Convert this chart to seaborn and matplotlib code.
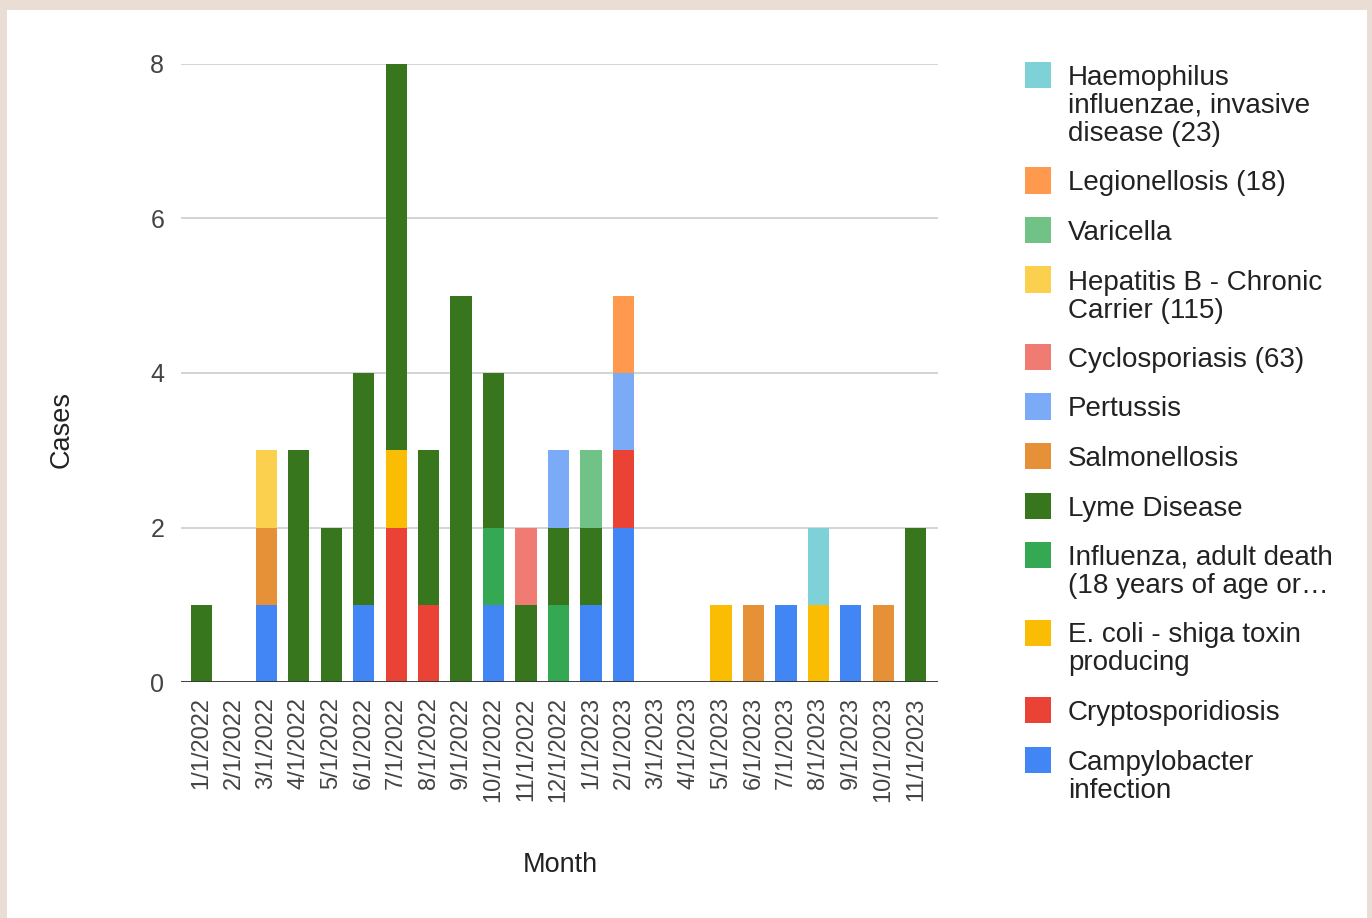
import numpy as np
import matplotlib.pyplot as plt
from matplotlib.patches import Rectangle
import seaborn as sns

months = ['1/1/2022', '2/1/2022', '3/1/2022', '4/1/2022', '5/1/2022', '6/1/2022',
          '7/1/2022', '8/1/2022', '9/1/2022', '10/1/2022', '11/1/2022', '12/1/2022',
          '1/1/2023', '2/1/2023', '3/1/2023', '4/1/2023', '5/1/2023', '6/1/2023',
          '7/1/2023', '8/1/2023', '9/1/2023', '10/1/2023', '11/1/2023']

# 每个病种每月的病例数（从下往上堆叠的顺序）
campylobacter = [0, 0, 1, 0, 0, 1, 0, 0, 0, 1, 0, 0, 1, 2, 0, 0, 0, 0, 1, 0, 1, 0, 0]
cryptosporidiosis = [0, 0, 0, 0, 0, 0, 2, 1, 0, 0, 0, 0, 0, 1, 0, 0, 0, 0, 0, 0, 0, 0, 0]
ecoli = [0, 0, 0, 0, 0, 0, 1, 0, 0, 0, 0, 0, 0, 0, 0, 0, 1, 0, 0, 1, 0, 0, 0]
influenza = [0, 0, 0, 0, 0, 0, 0, 0, 0, 1, 0, 1, 0, 0, 0, 0, 0, 0, 0, 0, 0, 0, 0]
lyme = [1, 0, 0, 3, 2, 3, 5, 2, 5, 2, 1, 1, 1, 0, 0, 0, 0, 0, 0, 0, 0, 0, 2]
salmonellosis = [0, 0, 1, 0, 0, 0, 0, 0, 0, 0, 0, 0, 0, 0, 0, 0, 0, 1, 0, 0, 0, 1, 0]
pertussis = [0, 0, 0, 0, 0, 0, 0, 0, 0, 0, 0, 1, 0, 1, 0, 0, 0, 0, 0, 0, 0, 0, 0]
cyclosporiasis = [0, 0, 0, 0, 0, 0, 0, 0, 0, 0, 1, 0, 0, 0, 0, 0, 0, 0, 0, 0, 0, 0, 0]
hepatitis_b = [0, 0, 1, 0, 0, 0, 0, 0, 0, 0, 0, 0, 0, 0, 0, 0, 0, 0, 0, 0, 0, 0, 0]
varicella = [0, 0, 0, 0, 0, 0, 0, 0, 0, 0, 0, 0, 1, 0, 0, 0, 0, 0, 0, 0, 0, 0, 0]
legionellosis = [0, 0, 0, 0, 0, 0, 0, 0, 0, 0, 0, 0, 0, 1, 0, 0, 0, 0, 0, 0, 0, 0, 0]
haemophilus = [0, 0, 0, 0, 0, 0, 0, 0, 0, 0, 0, 0, 0, 0, 0, 0, 0, 0, 0, 1, 0, 0, 0]

series = [campylobacter, cryptosporidiosis, ecoli, influenza, lyme, salmonellosis,
          pertussis, cyclosporiasis, hepatitis_b, varicella, legionellosis, haemophilus]
labels = ['Campylobacter\ninfection', 'Cryptosporidiosis', 'E. coli - shiga toxin\nproducing',
          'Influenza, adult death\n(18 years of age or…', 'Lyme Disease', 'Salmonellosis',
          'Pertussis', 'Cyclosporiasis (63)', 'Hepatitis B - Chronic\nCarrier (115)',
          'Varicella', 'Legionellosis (18)', 'Haemophilus\ninfluenzae, invasive\ndisease (23)']
colors = ['#4285F4', '#EA4335', '#FBBC04', '#34A853', '#38761D', '#E69138',
          '#7BAAF7', '#F07B72', '#FCD04F', '#71C287', '#FF994D', '#7ED1D7']

sns.set_theme(style='white')
plt.rcParams['font.family'] = ['Liberation Sans', 'DejaVu Sans']

W, H = 1372, 918
fig = plt.figure(figsize=(W / 100, H / 100), dpi=100, facecolor='#EADDD3')
# 白色底板，左、上、右留出米色边
fig.patches.append(Rectangle((7 / W, 0), 1360 / W, 1 - 10 / H, transform=fig.transFigure,
                             facecolor='white', edgecolor='none', zorder=-5))

ax = fig.add_axes([181 / W, 1 - 682 / H, 757 / W, 618 / H])
ax.set_facecolor('none')

# 用累计和叠加画出堆叠柱，先画最高一层
cum = np.cumsum(np.array(series), axis=0)
for i in range(len(series) - 1, -1, -1):
    sns.barplot(x=months, y=cum[i], color=colors[i], width=0.65, saturation=1,
                linewidth=0, ax=ax, zorder=2)

ax.set_xlim(-0.62, 22.68)
ax.set_ylim(0, 8)
ax.set_yticks([0, 2, 4, 6, 8])
ax.yaxis.grid(True, color='#CCCCCC', lw=1.2, zorder=0)
ax.set_axisbelow(True)
ax.axhline(0, color='#333333', lw=2, zorder=3)
sns.despine(ax=ax, left=True, bottom=True)
ax.tick_params(axis='x', length=0, pad=11, labelsize=17, labelcolor='#444444', rotation=90)
ax.tick_params(axis='y', length=0, pad=12, labelsize=18, labelcolor='#444444')

ax.set_xlabel('Month', fontsize=19.5, color='#222222')
ax.set_ylabel('Cases', fontsize=19.5, color='#222222')
ax.xaxis.set_label_coords((560 - 181) / 757, (682 - 865) / 618)
ax.yaxis.set_label_coords((62 - 181) / 757, (682 - 430) / 618)
ax.xaxis.label.set_va('center')
ax.yaxis.label.set_va('center')

# 图例：顺序与堆叠相反
y = 75
for lab, col in zip(labels[::-1], colors[::-1]):
    lines = lab.split('\n')
    fig.patches.append(Rectangle((1025 / W, 1 - (y + 13) / H), 26 / W, 26 / H,
                                 transform=fig.transFigure, facecolor=col,
                                 edgecolor='none', zorder=1))
    for k, line in enumerate(lines):
        fig.text(1068 / W, 1 - (y + 28 * k + 10) / H, line, fontsize=20,
                 color='#222222', va='baseline', ha='left')
    y += 28 * len(lines) + 21.5

fig.savefig('out.png', dpi=100, facecolor=fig.get_facecolor())
